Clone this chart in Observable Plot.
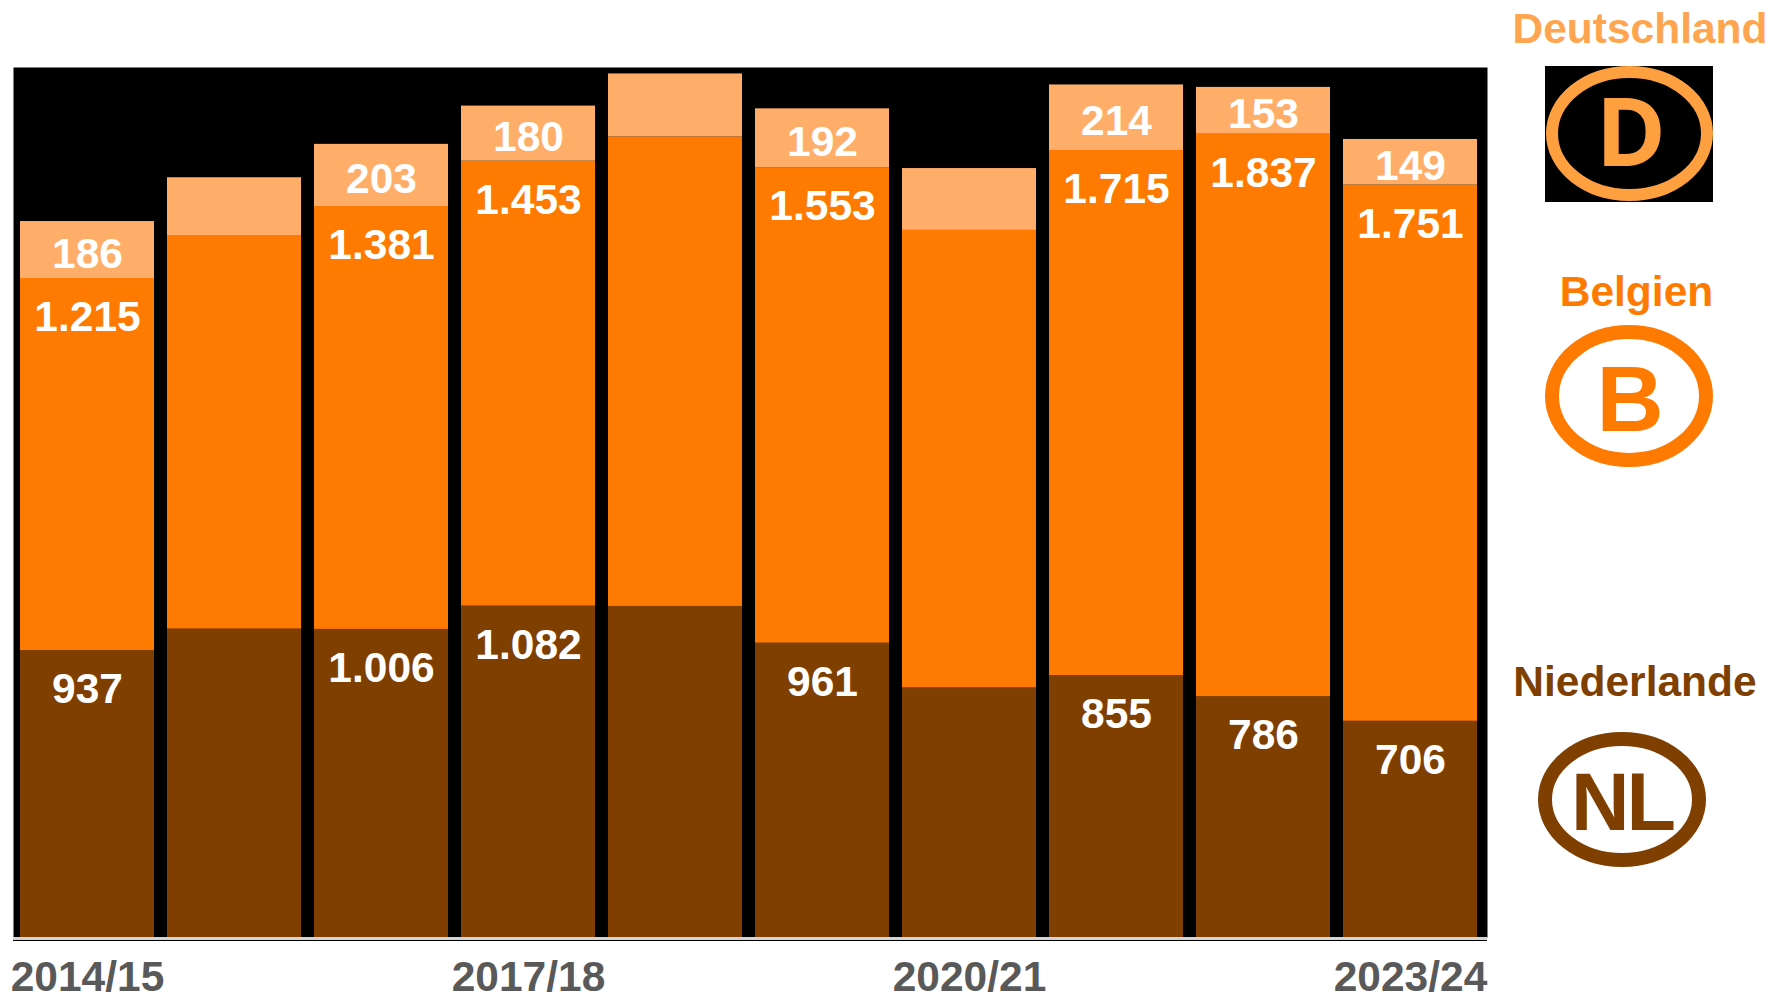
<!DOCTYPE html>
<html lang="de">
<head>
<meta charset="utf-8">
<script src="https://cdn.jsdelivr.net/npm/d3@7"></script>
<script src="https://cdn.jsdelivr.net/npm/@observablehq/plot@0.6"></script>
<style>
html,body{margin:0;padding:0;background:#fff;}
#wrap{position:relative;width:1769px;height:994px;overflow:hidden;font-family:"Liberation Sans",Arial,sans-serif;}
#wrap>svg{position:absolute;left:0;top:0;}
</style>
</head>
<body>
<div id="wrap"></div>
<script>
const seasons = ["2014/15","2015/16","2016/17","2017/18","2018/19","2019/20","2020/21","2021/22","2022/23","2023/24"];
const tickSeasons = ["2014/15","2017/18","2020/21","2023/24"];
const niederlande = [937,1007,1006,1082,1081,961,815,855,786,706];
const belgien     = [1215,1283,1381,1453,1533,1553,1494,1715,1837,1751];
const deutschland = [186,191,203,180,206,192,202,214,153,149];
// Values that the reference prints on the bars
const labelled = ["2014/15","2016/17","2017/18","2019/20","2021/22","2022/23","2023/24"];
const seriesNames = ["Niederlande","Belgien","Deutschland"];
const seriesColors = ["#7f3f00","#ff7a00","#ffae69"];

const rows = [niederlande, belgien, deutschland].flatMap((vals, i) =>
  vals.map((v, j) => ({season: seasons[j], series: seriesNames[i], value: v})));
const shown = rows.filter(d => labelled.includes(d.season));
const fmt = d3.formatLocale({decimal:",",thousands:".",grouping:[3],currency:["","€"]}).format(",d");
const stackOpts = {x:"season", y:"value", z:"series", order: seriesNames};
const labelStyle = {fill:"#fff", fontWeight:"bold", fontSize:42.5, stroke:"none", text:d=>fmt(d.value)};

const chart = Plot.plot({
  width:1769, height:994,
  marginLeft:13, marginRight:282, marginTop:67, marginBottom:57,
  style:{background:"transparent", fontFamily:'"Liberation Sans",Arial,sans-serif', overflow:"visible"},
  x:{domain:seasons, paddingInner:0.0917, paddingOuter:0.0459, range:[12.5,1484.5], label:null},
  y:{domain:[0,2841], label:null},
  color:{domain:seriesNames, range:seriesColors},
  marks:[
    Plot.frame({fill:"#000", stroke:"none"}),
    Plot.barY(rows, Plot.stackY({...stackOpts, fill:"series"})),
    // Niederlande and Belgien labels hang below the top of their segment
    Plot.text(shown.filter(d=>d.series!=="Deutschland"), Plot.stackY2({...stackOpts, ...labelStyle, dy:39,
      y:"value"})),
    // Deutschland labels are centred in their segment
    Plot.text(shown, Plot.stackY({...stackOpts, ...labelStyle, dy:4,
      text:d=>d.series==="Deutschland"?fmt(d.value):""})),
    Plot.ruleY([0], {stroke:"#d4d4d4", strokeWidth:3, dy:1}),
    Plot.ruleY([0], {stroke:"#000", strokeWidth:1, dy:3}),
    Plot.axisX({ticks:tickSeasons, tickSize:0, tickPadding:23, fontSize:42.5, fontWeight:"bold", fill:"#595959", label:null}),
    Plot.axisY({ticks:[]})
  ]
});
document.getElementById("wrap").appendChild(chart);

// Country key on the right
const ns = "http://www.w3.org/2000/svg";
const key = document.createElementNS(ns,"svg");
key.setAttribute("width",1769); key.setAttribute("height",994);
key.setAttribute("style","pointer-events:none");
key.innerHTML = `
  <g font-family="'Liberation Sans',Arial,sans-serif" font-weight="bold" font-size="42.5">
    <text x="1640" y="43" text-anchor="middle" fill="#ffa54f">Deutschland</text>
    <text x="1636.5" y="306" text-anchor="middle" fill="#ff7a00">Belgien</text>
    <text x="1635" y="696" text-anchor="middle" fill="#7f3f00">Niederlande</text>
  </g>
  <rect x="1545" y="66" width="168" height="136" fill="#000"/>
  <ellipse cx="1629.5" cy="133.5" rx="77.5" ry="61.5" fill="none" stroke="#ffa040" stroke-width="12"/>
  <text x="1631" y="166" text-anchor="middle" font-family="'Open Sans',sans-serif" font-weight="700" font-size="95" fill="#ffa040">D</text>
  <ellipse cx="1629" cy="396" rx="77" ry="64" fill="none" stroke="#ff7a00" stroke-width="14"/>
  <text x="1630" y="431" text-anchor="middle" font-family="'Liberation Sans',Arial,sans-serif" font-weight="700" font-size="93" fill="#ff7a00">B</text>
  <ellipse cx="1622" cy="799.5" rx="77" ry="60.5" fill="none" stroke="#7f3f00" stroke-width="14"/>
  <text x="1622" y="830" text-anchor="middle" font-family="'Liberation Sans',Arial,sans-serif" font-weight="700" font-size="81" letter-spacing="-3" fill="#7f3f00">NL</text>`;
document.getElementById("wrap").appendChild(key);
</script>
</body>
</html>
